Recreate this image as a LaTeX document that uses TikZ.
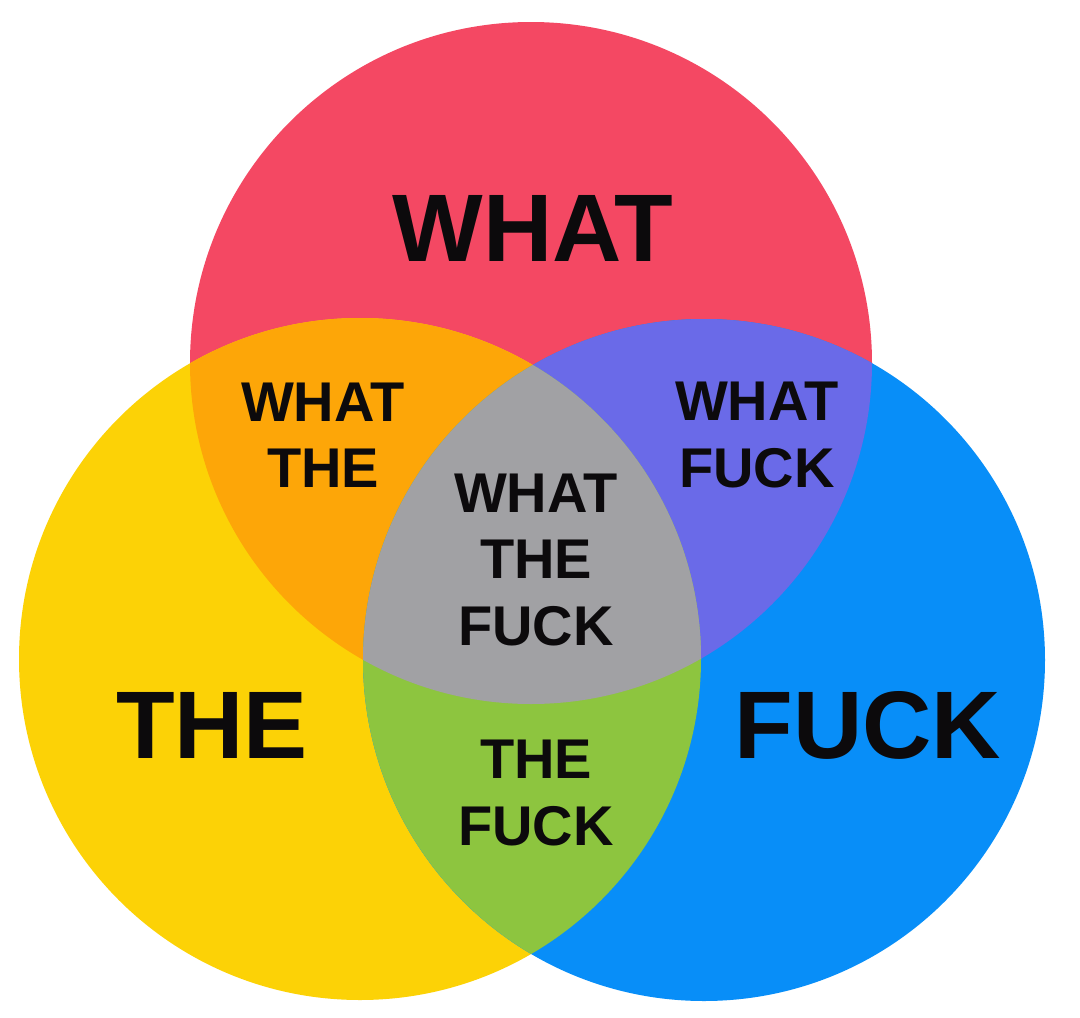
\documentclass[tikz,border=0pt]{standalone}
\usepackage{fontspec}
\setmainfont{Liberation Sans}
\definecolor{cred}{RGB}{244,72,99}
\definecolor{cyellow}{RGB}{252,210,6}
\definecolor{cblue}{RGB}{8,142,248}
\definecolor{corange}{RGB}{253,166,8}
\definecolor{cpurple}{RGB}{106,106,232}
\definecolor{cgreen}{RGB}{141,197,63}
\definecolor{cgray}{RGB}{161,161,164}
\definecolor{ink}{RGB}{12,10,12}
\newcommand{\crad}{341pt}
\begin{document}
\begin{tikzpicture}[x=1pt,y=-1pt,
  big/.style={font=\fontsize{96}{110}\selectfont\bfseries, inner sep=0pt, text=ink},
  small/.style={font=\fontsize{56}{66.5}\selectfont\bfseries, align=center, inner sep=0pt, text=ink}]
\fill[white] (0,0) rectangle (1080,1018);
\useasboundingbox (0,0) rectangle (1080,1018);
\coordinate (R) at (531,363);
\coordinate (Y) at (360,659);
\coordinate (B) at (704,660);
\fill[cred] (R) circle[radius=\crad];
\fill[cyellow] (Y) circle[radius=\crad];
\fill[cblue] (B) circle[radius=\crad];
\begin{scope}
  \clip (R) circle[radius=\crad];
  \fill[corange] (Y) circle[radius=\crad];
  \fill[cpurple] (B) circle[radius=\crad];
\end{scope}
\begin{scope}
  \clip (Y) circle[radius=\crad];
  \fill[cgreen] (B) circle[radius=\crad];
\end{scope}
\begin{scope}
  \clip (R) circle[radius=\crad];
  \clip (Y) circle[radius=\crad];
  \fill[cgray] (B) circle[radius=\crad];
\end{scope}
\node[big] (what) at (533,228) {WHAT};
\node[big] (the) at (212,725) {THE};
\node[big] (fuck) at (868,725) {FUCK};
\node[small] (wt) at (323,435) {WHAT\\THE};
\node[small] (wf) at (757,435) {WHAT\\FUCK};
\node[small] (wtf) at (536,560) {WHAT\\THE\\FUCK};
\node[small] (tf) at (536,793) {THE\\FUCK};
\end{tikzpicture}
\end{document}
